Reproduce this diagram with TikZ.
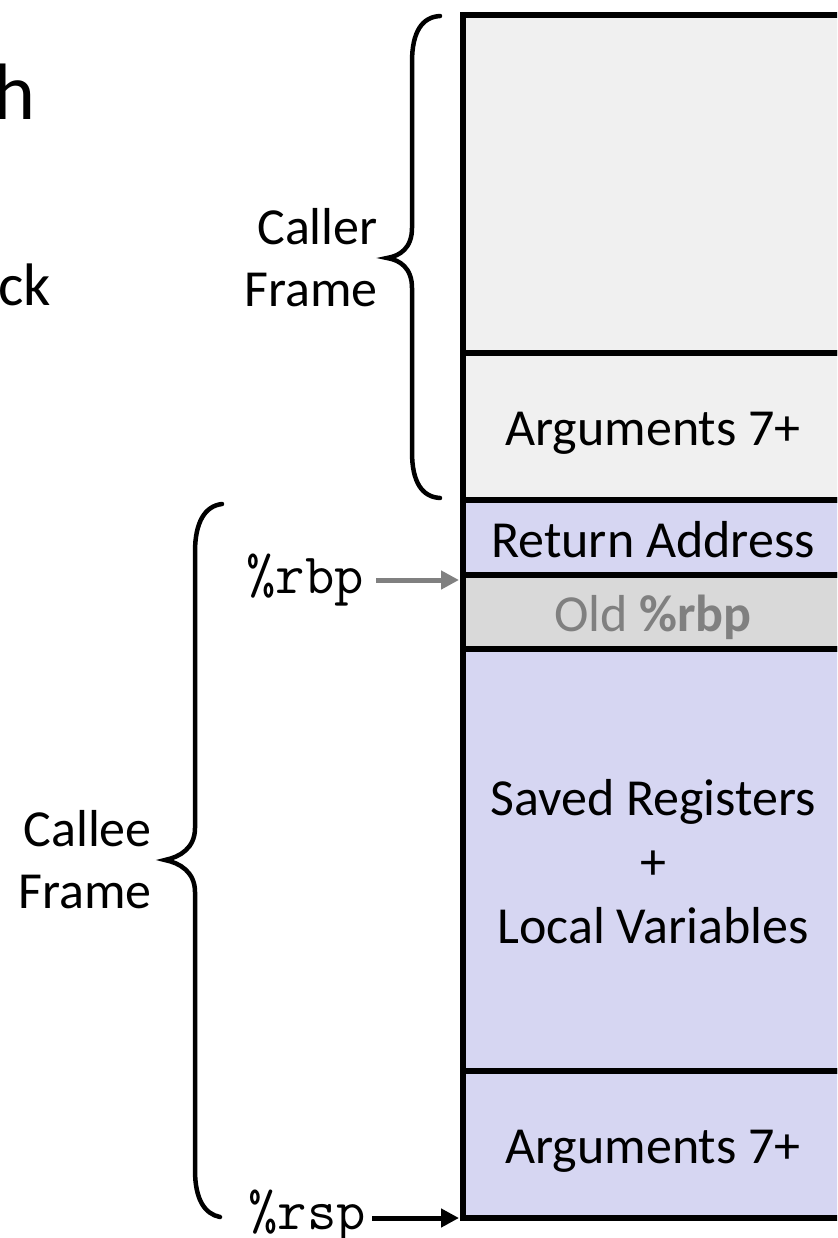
\documentclass[tikz,border=0pt]{standalone}
\usepackage{fontspec}
\setmainfont{Carlito}
\usetikzlibrary{arrows.meta}
\definecolor{callerfill}{RGB}{240,240,240}
\definecolor{calleefill}{RGB}{214,214,242}
\definecolor{oldfill}{RGB}{217,217,217}
\definecolor{oldtext}{RGB}{128,128,128}
\tikzset{
  stackbox/.style={draw=black, line width=6pt, minimum width=380pt, inner sep=0pt, outer sep=0pt, anchor=north west},
  boxtext/.style={font=\fontsize{52}{64}\selectfont, align=center, inner sep=0pt},
  lbl/.style={font=\fontsize{52}{62}\selectfont, align=right, inner sep=0pt},
  reglbl/.style={font=\ttfamily\fontsize{57}{66}\selectfont, inner sep=0pt},
  bracepath/.style={line width=4.5pt, line cap=round},
  ptr/.style={line width=5pt, -{Triangle[length=18pt,width=18pt]}}
}
\begin{document}
\begin{tikzpicture}[x=1pt,y=-1pt]
\useasboundingbox (0,0) rectangle (837,1238);
\clip (0,0) rectangle (837,1238);
% stack boxes
\node[stackbox, fill=callerfill, minimum height=338pt] (top) at (463,15) {};
\node[stackbox, fill=callerfill, minimum height=147pt] (args1) at (463,353) {};
\node[stackbox, fill=calleefill, minimum height=75pt] (ret) at (463,500) {};
\node[stackbox, fill=oldfill, minimum height=74pt] (oldrbp) at (463,575) {};
\node[stackbox, fill=calleefill, minimum height=422pt] (saved) at (463,649) {};
\node[stackbox, fill=calleefill, minimum height=147pt] (args2) at (463,1071) {};
% box texts
\node[boxtext] (args1t) at ([yshift=-7pt]args1.center) {Arguments 7+};
\node[boxtext] (rett) at ([yshift=-2pt]ret.center) {Return Address};
\node[boxtext, text=oldtext] (oldt) at ([yshift=-5pt]oldrbp.center) {Old \textbf{\%rbp}};
\node[boxtext] (savedt) at ([yshift=-2pt]saved.center) {Saved Registers\\+\\Local Variables};
\node[boxtext] (args2t) at ([yshift=-7pt]args2.center) {Arguments 7+};
% cut-off title text at left
\node[lbl, anchor=east, font=\fontsize{80}{90}\selectfont] (t1) at (36,92) {h};
\node[lbl, anchor=east, font=\fontsize{60}{70}\selectfont] (t2) at (51,285) {ck};
% frame labels
\node[lbl, anchor=east] (caller) at (378,258) {Caller\\Frame};
\node[lbl, anchor=east] (callee) at (152,860) {Callee\\Frame};
% braces
\draw[bracepath] (440,16) .. controls (422,17) and (412,32) .. (412,62) -- (412,228)
  .. controls (412,248) and (400,256) .. (387,258)
  .. controls (400,260) and (412,268) .. (412,288) -- (412,452)
  .. controls (412,482) and (422,497) .. (440,498);
\draw[bracepath] (222,504) .. controls (205,506) and (195,522) .. (195,552) -- (195,828)
  .. controls (195,848) and (180,857) .. (165,860)
  .. controls (180,863) and (195,872) .. (195,892) -- (195,1170)
  .. controls (195,1200) and (205,1214) .. (220,1217);
% register pointers
\node[reglbl, anchor=east] (rbp) at (364,580) {\%rbp};
\node[reglbl, anchor=east] (rsp) at (366,1216) {\%rsp};
\coordinate (rbptip) at ([xshift=-4pt,yshift=-5pt]oldrbp.north west);
\coordinate (rsptip) at ([xshift=-4pt]args2.south west);
\draw[ptr, draw=oldtext, fill=oldtext] ([xshift=12pt]rbp.east |- rbptip) -- (rbptip);
\draw[ptr] ([xshift=6pt]rsp.east |- rsptip) -- (rsptip);
\end{tikzpicture}
\end{document}
